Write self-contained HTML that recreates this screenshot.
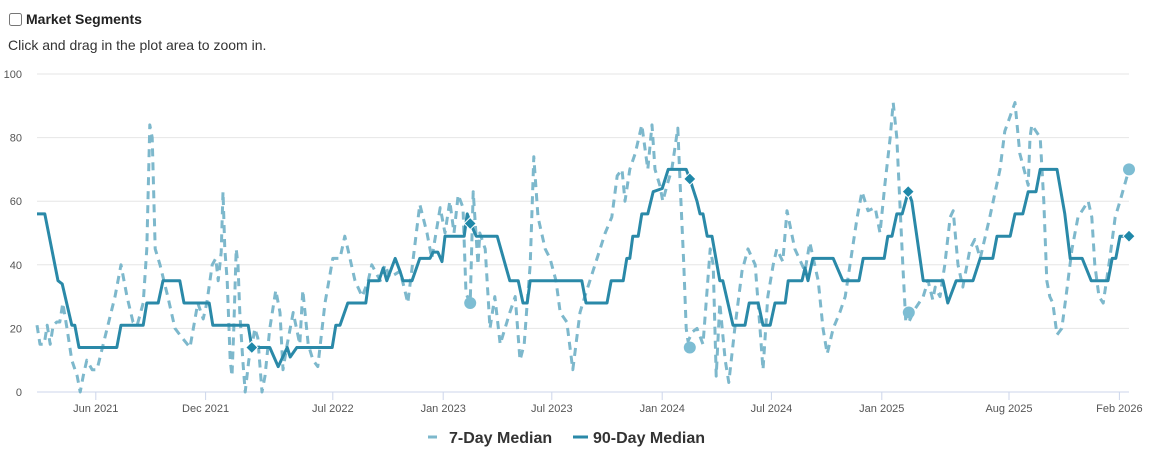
<!DOCTYPE html>
<html><head><meta charset="utf-8">
<style>
body{margin:0;background:#fff;font-family:"Liberation Sans",Arial,sans-serif;width:1162px;height:456px;overflow:hidden;position:relative}
.hdr{position:absolute;left:9px;top:11px;font-size:14px;font-weight:bold;color:#222;display:flex;align-items:center}
.hdr input{margin:0 4px 0 0;width:13px;height:13px}
.sub{position:absolute;left:8px;top:37px;font-size:14px;color:#333}
svg{position:absolute;left:0;top:0}
</style></head><body>
<div class="hdr"><input type="checkbox"><span>Market Segments</span></div>
<div class="sub">Click and drag in the plot area to zoom in.</div>
<svg id="chart" width="1162" height="456"></svg>
<script>
// day offsets from 2021-02-23
const days90 = [0,13,35,42,58,63,70,133,140,177,183,202,210,238,245,287,293,352,358,388,402,417,422,433,492,498,505,518,548,553,570,577,583,597,605,610,625,638,655,660,668,675,680,712,717,725,732,767,788,802,810,817,822,908,915,950,957,977,983,988,993,1002,1008,1018,1027,1042,1052,1082,1088,1100,1105,1110,1117,1125,1138,1143,1160,1180,1187,1202,1210,1222,1230,1247,1252,1275,1280,1285,1293,1327,1343,1370,1377,1412,1418,1425,1433,1442,1452,1458,1477,1510,1518,1532,1560,1572,1593,1600,1622,1630,1643,1652,1665,1672,1700,1713,1722,1742,1757,1785,1792,1798,1805,1820];
const vals90 = [56,56,35,34,21,21,14,14,21,21,28,28,35,35,28,28,21,21,14,14,8,14,11,14,14,21,21,28,28,35,35,39,35,42,38,35,35,42,42,44,44,41,49,49,56,52,49,49,35,35,28,28,35,35,28,28,35,35,42,42,49,49,56,56,63,64,70,70,67,60,56,56,49,49,35,35,21,21,28,28,21,21,28,28,35,35,39,35,42,42,35,35,42,42,49,49,56,56,63,60,35,35,28,35,35,42,42,49,49,56,56,63,63,70,70,56,42,42,35,35,42,42,49,49];
const days7 = [0,5,12,17,22,27,33,38,43,50,58,67,72,77,83,92,100,113,130,140,150,160,167,177,183,188,192,197,205,218,230,242,255,268,277,283,292,298,302,307,310,313,317,322,325,328,332,335,338,343,347,353,358,363,368,375,380,388,398,405,410,417,427,438,443,452,460,468,480,493,505,513,518,530,542,552,558,572,580,588,605,613,618,638,650,658,672,680,688,695,702,710,715,722,727,735,738,747,755,763,772,780,788,797,805,812,817,822,828,835,847,855,865,872,883,893,905,913,930,947,958,967,975,980,988,997,1008,1018,1025,1030,1038,1043,1050,1058,1068,1072,1078,1082,1085,1093,1100,1110,1122,1127,1132,1138,1147,1153,1163,1175,1185,1197,1205,1210,1218,1227,1233,1243,1250,1263,1280,1288,1302,1310,1317,1327,1338,1347,1355,1367,1375,1385,1397,1405,1413,1422,1427,1433,1438,1443,1448,1453,1463,1477,1485,1493,1497,1505,1513,1522,1527,1535,1543,1555,1563,1572,1588,1605,1613,1630,1638,1645,1652,1655,1658,1672,1678,1683,1688,1693,1700,1708,1715,1725,1735,1752,1758,1763,1770,1777,1788,1797,1805,1820];
const vals7 = [21,15,15,21,15,21,22,22,28,20,10,5,0,5,10,7,7,17,30,40,30,22,21,28,45,84,80,45,40,30,20,17,14,28,23,28,40,42,35,44,63,45,35,10,5,20,45,40,25,10,0,10,14,20,17,0,5,20,32,25,7,15,25,15,32,15,10,8,28,42,42,49,45,35,30,35,40,35,40,36,38,32,28,59,50,42,58,50,60,50,62,58,31,28,63,40,50,45,20,30,15,20,25,30,10,15,28,40,74,55,45,42,35,25,22,7,25,30,40,50,55,68,70,60,70,75,84,70,84,70,65,60,65,70,83,65,40,20,16,19,20,15,45,40,5,28,10,3,20,38,45,40,20,7,30,40,45,41,57,45,38,47,35,20,12,20,25,30,40,55,63,57,58,50,65,80,91,80,60,40,22,22,26,30,35,29,33,30,40,55,57,40,33,45,48,42,55,70,82,91,75,70,65,80,84,80,60,35,30,28,18,20,30,45,55,60,55,40,30,28,42,55,60,70];
const diamondDays = [358,722,1088,1452,1820];
const diamondVals = [14,53,67,63,49];
const circleDays = [722,1088,1453,1820];
const circleVals = [28,14,25,70];
const yTicks = [0,20,40,60,80,100];
const xTickDates = ["2021-06-01","2021-12-01","2022-07-01","2023-01-01","2023-07-01","2024-01-01","2024-07-01","2025-01-01","2025-08-01","2026-02-01"];
const xTickLabels = ["Jun 2021","Dec 2021","Jul 2022","Jan 2023","Jul 2023","Jan 2024","Jul 2024","Jan 2025","Aug 2025","Feb 2026"];

const svg=document.getElementById('chart');const NS='http://www.w3.org/2000/svg';
const X0=37,X1=1129,Y0=392,Y1=74,DMAX=1820;
const x=d=>X0+d*(X1-X0)/DMAX;
const y=v=>Y0-v*(Y0-Y1)/100;
const start=Date.UTC(2021,1,23);
function mk(t,a,p){const e=document.createElementNS(NS,t);for(const k in a)e.setAttribute(k,a[k]);(p||svg).appendChild(e);return e;}
yTicks.forEach(v=>{
  const g=mk('line',{x1:X0,x2:1129,y1:y(v),y2:y(v),stroke:v===0?'#ccd6eb':'#e6e6e6','stroke-width':1});
  
  
  const t=mk('text',{x:22,y:y(v)+4,'text-anchor':'end','font-size':11,fill:'#555','font-family':'Liberation Sans, sans-serif'});
  t.textContent=v;
  
  
});
xTickDates.forEach((ds,i)=>{
  const p=ds.split('-').map(Number);const d=(Date.UTC(p[0],p[1]-1,p[2])-start)/864e5;
  const tk=mk('line',{x1:x(d),x2:x(d),y1:Y0,y2:Y0+8,stroke:'#ccd6eb'});
  
  
  const t=mk('text',{x:x(d),y:412,'text-anchor':'middle','font-size':11,fill:'#555','font-family':'Liberation Sans, sans-serif'});
  t.textContent=xTickLabels[i];
  
  
});
const path=(ds,vs)=>ds.map((d,i)=>(i?'L':'M')+x(d).toFixed(1)+' '+y(vs[i]).toFixed(1)).join(' ');
const l7=mk('path',{d:path(days7,vals7),fill:'none',stroke:'#7db8cc','stroke-width':3,'stroke-dasharray':'8,6','stroke-linejoin':'round'});


const l90=mk('path',{d:path(days90,vals90),fill:'none',stroke:'#2a89a8','stroke-width':3,'stroke-linejoin':'round'});


circleDays.forEach((d,i)=>{
  const c=mk('circle',{cx:x(d),cy:y(circleVals[i]),r:6,fill:'#7dbdd3'});
  
  
});
diamondDays.forEach((d,i)=>{
  const cx=x(d),cy=y(diamondVals[i]);
  const p=mk('path',{d:`M${cx} ${cy-6}L${cx+6} ${cy}L${cx} ${cy+6}L${cx-6} ${cy}Z`,fill:'#1f88a9',stroke:'#fff','stroke-width':1});
  
  
});
// legend
const lg=mk('g',{});


const li1=mk('g',{},lg);


mk('line',{x1:428,x2:437,y1:437,y2:437,stroke:'#7db8cc','stroke-width':3},li1);
const t1=mk('text',{x:449,y:443,'font-size':16,'font-weight':'bold',fill:'#333','font-family':'Liberation Sans, sans-serif'},li1);t1.textContent='7-Day Median';
const li2=mk('g',{},lg);


mk('line',{x1:573,x2:588,y1:437,y2:437,stroke:'#2a89a8','stroke-width':3},li2);
const t2=mk('text',{x:593,y:443,'font-size':16,'font-weight':'bold',fill:'#333','font-family':'Liberation Sans, sans-serif'},li2);t2.textContent='90-Day Median';
</script>
</body></html>
